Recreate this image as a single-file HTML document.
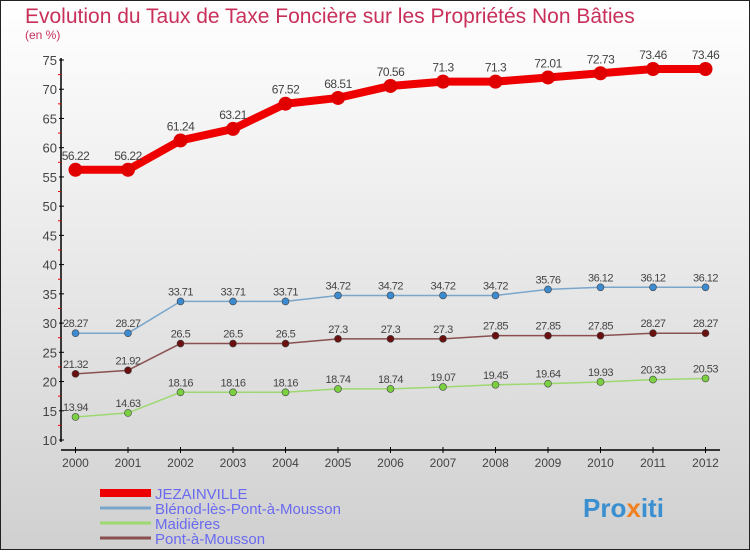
<!DOCTYPE html>
<html><head><meta charset="utf-8"><style>
body{margin:0;width:750px;height:550px;overflow:hidden;font-family:"Liberation Sans",sans-serif}
</style></head><body>
<svg width="750" height="550" xmlns="http://www.w3.org/2000/svg">
<defs><linearGradient id="bg" x1="0" y1="0" x2="0" y2="1"><stop offset="0" stop-color="#ffffff"/><stop offset="1" stop-color="#d0d0d0"/></linearGradient></defs>
<rect x="0.5" y="0.5" width="749" height="549" fill="url(#bg)" stroke="#222"/>
<text x="25" y="23" font-size="21" fill="#c8305a">Evolution du Taux de Taxe Foncière sur les Propriétés Non Bâties</text>
<text x="25" y="39" font-size="12" fill="#c8305a">(en %)</text>
<g id="axes"></g><g id="series"></g><g id="legend"></g>
<text x="583" y="517" font-size="26" font-weight="bold" fill="#3a8fd0">Pro<tspan fill="#f08020">x</tspan>iti</text>
</svg>
<script>
const years=["2000","2001","2002","2003","2004","2005","2006","2007","2008","2009","2010","2011","2012"];
const yTicks=[10,15,20,25,30,35,40,45,50,55,60,65,70,75];
const jez=[56.22,56.22,61.24,63.21,67.52,68.51,70.56,71.3,71.3,72.01,72.73,73.46,73.46];
const blenod=[28.27,28.27,33.71,33.71,33.71,34.72,34.72,34.72,34.72,35.76,36.12,36.12,36.12];
const maid=[13.94,14.63,18.16,18.16,18.16,18.74,18.74,19.07,19.45,19.64,19.93,20.33,20.53];
const pam=[21.32,21.92,26.5,26.5,26.5,27.3,27.3,27.3,27.85,27.85,27.85,28.27,28.27];
const names=["JEZAINVILLE","Blénod-lès-Pont-à-Mousson","Maidières","Pont-à-Mousson"];
const NS="http://www.w3.org/2000/svg";
const X=i=>75.5+i*52.5, Y=v=>440-(v-10)*380/65;
function mk(t,a,p){const e=document.createElementNS(NS,t);for(const k in a)e.setAttribute(k,a[k]);p.appendChild(e);return e;}
const ax=document.getElementById('axes');
let l=mk('line',{x1:61,y1:58,x2:61,y2:442,stroke:'#000','stroke-width':1.5},ax);


l=mk('line',{x1:61,y1:450,x2:720,y2:450,stroke:'#000','stroke-width':1.5},ax);


yTicks.forEach(v=>{
 mk('line',{x1:59,y1:Y(v),x2:64,y2:Y(v),stroke:'#000'},ax);
 if(v<75)mk('line',{x1:58,y1:Y(v+2.5),x2:61,y2:Y(v+2.5),stroke:'#e00'},ax);
 const t=mk('text',{x:57,y:Y(v)+5,'text-anchor':'end','font-size':13,fill:'#444'},ax);t.textContent=v;
 
 
});
years.forEach((y,i)=>{
 mk('line',{x1:X(i),y1:447,x2:X(i),y2:453,stroke:'#000'},ax);
 const t=mk('text',{x:X(i),y:467,'text-anchor':'middle','font-size':12,fill:'#444'},ax);t.textContent=y;
 
 
});
const sg=document.getElementById('series');
const defs=[[jez,'#ee0000',8,7,'#e00000'],[blenod,'#7aa6cc',1.5,3.5,'#3c8ad0'],[pam,'#8a5050',1.5,3.5,'#6a1010'],[maid,'#9ed870',1.5,3.5,'#7ad040']];
const keys=['jezainville','blenod','pont-a-mousson','maidieres'];
defs.forEach(([d,c,w,r,fc],k)=>{
 const g=mk('g',{},sg);
 
 
 const p=mk('polyline',{points:d.map((v,i)=>X(i)+','+Y(v)).join(' '),fill:'none',stroke:c,'stroke-width':w},g);
 
 
 d.forEach((v,i)=>{
  const ci=mk('circle',{cx:X(i),cy:Y(v),r:r,fill:fc,stroke:k==0?'#e00000':'#444','stroke-width':k==0?0:0.6},g);
  
  
  const t=mk('text',{x:X(i),y:Y(v)-(k==0?10:6),'text-anchor':'middle','font-size':k==0?12:11,fill:'#444','letter-spacing':'-0.5'},g);
  t.textContent=v;
  
  
 });
});
const lg=document.getElementById('legend');
const lc=[['#ee0000',8],['#7aa6cc',3],['#9ed870',3],['#8a5050',3]];
names.forEach((n,i)=>{
 const y=493+i*15;
 const s=mk('line',{x1:100,y1:y,x2:151,y2:y,stroke:lc[i][0],'stroke-width':lc[i][1]},lg);
 
 
 const t=mk('text',{x:155,y:y+6,'font-size':15,fill:'#6a6af0'},lg);t.textContent=n;
 
 
});
</script>
</body></html>
